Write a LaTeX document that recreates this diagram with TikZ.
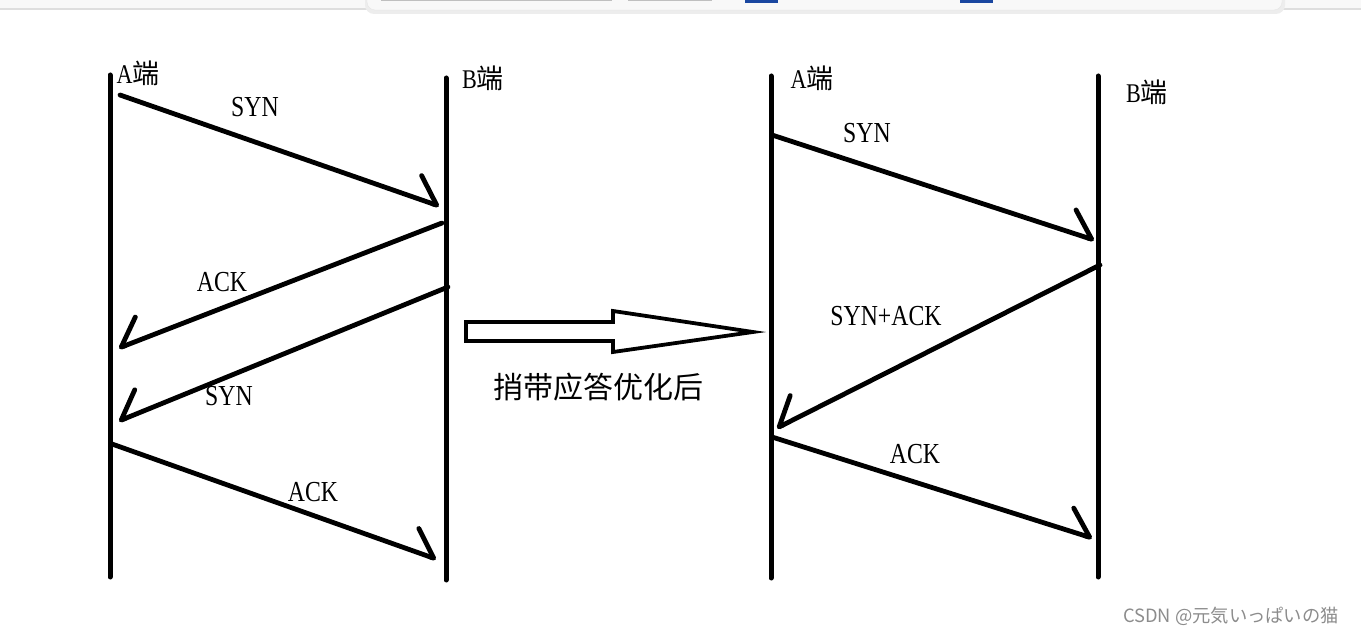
\documentclass[tikz,border=0pt]{standalone}
\usepackage{fontspec}
\setmainfont{Liberation Serif}[FakeStretch=0.82]
\newfontfamily\cjk{Noto Sans CJK SC}
\newfontfamily\jpfont{Noto Sans CJK JP}
\usepackage{tikz}
\usetikzlibrary{arrows.meta,positioning}
\definecolor{barbg}{RGB}{248,248,248}
\definecolor{barline}{RGB}{222,222,222}
\definecolor{btnblue}{RGB}{26,71,160}
\definecolor{wmgray}{RGB}{140,140,140}
\tikzset{
    lifeline/.style = {line width=5pt, line cap=round},
    msgright/.style = {line width=4.8pt, line cap=round, -{Straight Barb[harpoon, round, length=24pt, width=46pt]}},
    msgleft/.style = {line width=4.8pt, line cap=round, -{Straight Barb[harpoon, swap, round, length=24pt, width=46pt]}},
    endlabel/.style = {inner sep=0pt, font=\fontsize{27}{29}\selectfont},
    msglabel/.style = {inner sep=0pt, font=\fontsize{29}{31}\selectfont},
    bigarrow/.style = {line width=3.8pt, line join=miter},
    caption/.style = {inner sep=0pt, font=\cjk\fontsize{30}{32}\selectfont},
    watermark/.style = {inner sep=0pt, text=wmgray, font=\jpfont\fontsize{18.3}{20}\selectfont}
}

\begin{document}
\begin{tikzpicture}[x=1pt, y=-1pt]
    \useasboundingbox (0,0) rectangle (1361,636);

    \fill[barbg] (0,0) rectangle (1361,8);
    \draw[barline, line width=1.5pt] (0,9) -- (1361,9);
    \fill[black!7, rounded corners=9pt] (365,-12) rectangle (1285,14);
    \filldraw[fill=barbg, draw=black!10, rounded corners=8pt] (367,-12) rectangle (1282,10);
    \draw[black!25, line width=1.5pt] (381,0.5) -- (612,0.5);
    \draw[black!25, line width=1.5pt] (628,0.5) -- (712,0.5);
    \fill[btnblue] (745,0) rectangle (778,3);
    \fill[btnblue] (960,0) rectangle (993,3);

    \coordinate (Atop) at (110,75);
    \coordinate (Abot) at (110,577);
    \coordinate (Btop) at (446,78);
    \coordinate (Bbot) at (446,580);
    \coordinate (Ctop) at (771,76);
    \coordinate (Cbot) at (771,578);
    \coordinate (Dtop) at (1098,76);
    \coordinate (Dbot) at (1098,577);

    \draw[lifeline] (Atop) -- (Abot);
    \draw[lifeline] (Btop) -- (Bbot);
    \draw[lifeline] (Ctop) -- (Cbot);
    \draw[lifeline] (Dtop) -- (Dbot);

    \node[endlabel] (aleft) at (138,73) {A{\cjk 端}};
    \node[endlabel] (bleft) at (483,78) {B{\cjk 端}};
    \node[endlabel] (aright) at (812,78) {A{\cjk 端}};
    \node[endlabel] (bright) at (1147,92) {B{\cjk 端}};

    \coordinate (syn1a) at (120,95);
    \coordinate (syn1b) at (439,206);
    \coordinate (ack1b) at (442,223);
    \coordinate (ack1a) at (119,348);
    \coordinate (syn2b) at (448,287);
    \coordinate (syn2a) at (119,421);
    \coordinate (ack2a) at (112,444);
    \coordinate (ack2b) at (436,559);

    \draw[msgright] (syn1a) -- (syn1b);
    \draw[msgleft] (ack1b) -- (ack1a);
    \draw[msgleft] (syn2b) -- (syn2a);
    \draw[msgright] (ack2a) -- (ack2b);

    \node[msglabel] (syn1) at (255,107) {SYN};
    \node[msglabel] (ack1) at (222,282) {ACK};
    \node[msglabel] (syn2) at (229,396) {SYN};
    \node[msglabel] (ack2) at (313,492) {ACK};

    \draw[bigarrow] (466,322) -- (613,322) -- (613,311) -- (753,332) -- (613,352) -- (613,341) -- (466,341) -- cycle;
    \node[caption] (optim) at (598,387) {捎带应答优化后};

    \coordinate (syn3a) at (772,135);
    \coordinate (syn3b) at (1094,240);
    \coordinate (synackb) at (1100,265);
    \coordinate (synacka) at (777,428);
    \coordinate (ack3a) at (772,437);
    \coordinate (ack3b) at (1092,538);

    \draw[msgright] (syn3a) -- (syn3b);
    \draw[msgleft] (synackb) -- (synacka);
    \draw[msgright] (ack3a) -- (ack3b);

    \node[msglabel] (syn3) at (867,133) {SYN};
    \node[msglabel] (synack) at (886,316) {SYN+ACK};
    \node[msglabel] (ack3) at (915,454) {ACK};

    \node[watermark] (mark) at (1231,616) {CSDN @元気いっぱいの猫};
\end{tikzpicture}
\end{document}
